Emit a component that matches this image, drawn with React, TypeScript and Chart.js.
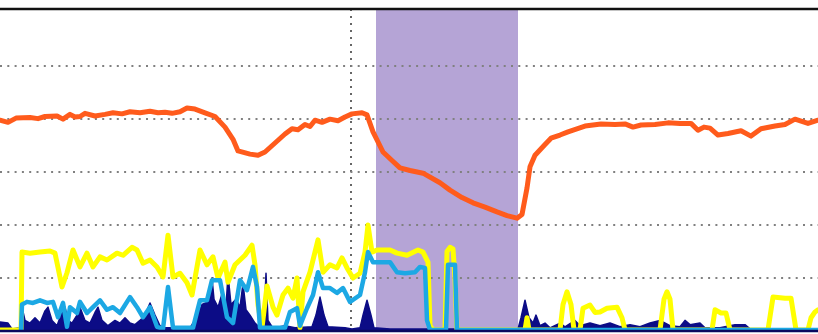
import React, { useEffect, useRef } from "react";
import { Chart, registerables } from "chart.js";

Chart.register(...registerables);

// ---- data ----
const yTicks = [1, 2, 3, 4, 5];
const xMin = 0;
const xMax = 818;
const yMin = 0;
const yMax = 6.08;
const markerX = [351];
const bandStart = 376;
const bandEnd = 518;

const orangeX = [0, 8, 16, 30, 38, 45, 57, 63, 70, 75, 80, 85, 95, 105, 113, 122, 130, 140, 150, 158, 165, 172, 180, 187, 195, 205, 215, 225, 233, 238, 250, 258, 265, 275, 285, 292, 298, 305, 310, 315, 322, 330, 338, 345, 352, 362, 367, 373, 383, 392, 400, 410, 423, 440, 450, 462, 473, 485, 497, 507, 517, 522, 527, 530, 535, 545, 551, 560, 568, 585, 601, 615, 625, 633, 641, 655, 668, 680, 691, 698, 704, 710, 718, 728, 741, 751, 761, 775, 785, 795, 808, 818];
const orangeY = [3.98, 3.94, 4.02, 4.03, 4.01, 4.05, 4.06, 4.0, 4.09, 4.04, 4.05, 4.11, 4.06, 4.09, 4.12, 4.1, 4.14, 4.12, 4.15, 4.12, 4.13, 4.11, 4.14, 4.21, 4.19, 4.12, 4.05, 3.85, 3.62, 3.4, 3.34, 3.32, 3.38, 3.55, 3.72, 3.82, 3.8, 3.9, 3.86, 3.98, 3.94, 4.0, 3.97, 4.04, 4.1, 4.12, 4.08, 3.76, 3.38, 3.22, 3.08, 3.03, 2.98, 2.8, 2.66, 2.52, 2.42, 2.34, 2.25, 2.18, 2.13, 2.2, 2.7, 3.1, 3.32, 3.52, 3.64, 3.7, 3.76, 3.87, 3.91, 3.9, 3.91, 3.85, 3.89, 3.9, 3.93, 3.92, 3.92, 3.79, 3.85, 3.83, 3.7, 3.73, 3.78, 3.68, 3.82, 3.87, 3.9, 4.0, 3.92, 3.98];

const yellowX = [0, 21, 22, 30, 40, 50, 55, 58, 62, 67, 73, 80, 87, 93, 100, 107, 117, 123, 132, 137, 143, 150, 157, 163, 168, 173, 180, 187, 192, 200, 207, 213, 218, 225, 228, 235, 245, 252, 255, 258, 262, 267, 273, 277, 283, 288, 293, 297, 300, 303, 310, 318, 323, 330, 337, 342, 347, 353, 360, 365, 368, 372, 377, 390, 397, 407, 418, 423, 428, 430, 433, 445, 447, 450, 453, 455, 457, 525, 527, 529, 560, 563, 567, 571, 574, 580, 583, 590, 595, 600, 607, 617, 622, 625, 660, 664, 667, 670, 673, 712, 715, 721, 726, 730, 768, 773, 785, 791, 796, 808, 811, 815, 818];
const yellowY = [0.02, 0.02, 1.49, 1.47, 1.49, 1.51, 1.47, 1.2, 0.83, 1.1, 1.53, 1.21, 1.47, 1.21, 1.4, 1.34, 1.47, 1.43, 1.58, 1.53, 1.28, 1.34, 1.21, 1.02, 1.81, 1.02, 1.09, 0.91, 0.68, 1.53, 1.25, 1.4, 1.0, 1.3, 0.92, 1.25, 1.43, 1.62, 1.25, 0.49, 0.06, 0.85, 0.45, 0.3, 0.68, 0.81, 0.62, 1.0, 0.06, 0.74, 1.11, 1.72, 1.11, 1.25, 1.19, 1.38, 1.19, 1.0, 1.09, 1.49, 2.0, 1.49, 1.53, 1.53, 1.47, 1.43, 1.53, 1.49, 1.3, 0.1, 0.02, 0.02, 1.5, 1.58, 1.55, 1.0, 0.02, 0.02, 0.25, 0.02, 0.02, 0.5, 0.74, 0.5, 0.02, 0.02, 0.43, 0.49, 0.35, 0.36, 0.43, 0.45, 0.25, 0.02, 0.02, 0.6, 0.74, 0.6, 0.02, 0.02, 0.4, 0.34, 0.34, 0.02, 0.02, 0.64, 0.62, 0.62, 0.02, 0.02, 0.25, 0.36, 0.4];

const blueX = [21, 22, 27, 33, 40, 47, 53, 58, 63, 67, 70, 77, 80, 87, 93, 100, 107, 113, 120, 130, 137, 143, 150, 157, 163, 168, 173, 193, 200, 207, 212, 220, 227, 233, 240, 247, 253, 257, 260, 265, 285, 290, 297, 300, 307, 313, 318, 323, 330, 337, 343, 350, 360, 365, 368, 373, 390, 397, 405, 415, 420, 425, 427, 430, 446, 448, 455, 457, 818];
const blueY = [0.02, 0.5, 0.55, 0.53, 0.58, 0.53, 0.55, 0.26, 0.53, 0.08, 0.45, 0.34, 0.55, 0.34, 0.45, 0.58, 0.4, 0.45, 0.34, 0.64, 0.45, 0.26, 0.45, 0.08, 0.04, 0.83, 0.06, 0.06, 0.58, 0.58, 0.96, 0.96, 0.26, 0.15, 0.96, 0.77, 1.21, 0.83, 0.06, 0.06, 0.06, 0.36, 0.43, 0.1, 0.43, 0.68, 1.11, 0.81, 0.81, 0.72, 0.81, 0.55, 0.68, 1.11, 1.49, 1.3, 1.3, 1.11, 1.09, 1.11, 1.21, 1.19, 0.2, 0.02, 0.02, 1.25, 1.25, 0.02, 0.02];

const navyX = [0, 8, 12, 20, 22, 25, 30, 35, 40, 45, 48, 52, 57, 62, 65, 68, 72, 77, 80, 85, 90, 95, 98, 102, 108, 115, 120, 125, 130, 135, 140, 145, 150, 155, 160, 165, 175, 190, 198, 202, 208, 212, 214, 218, 222, 226, 228, 231, 236, 240, 243, 246, 250, 255, 260, 264, 266, 268, 272, 280, 285, 295, 312, 316, 320, 324, 328, 345, 352, 360, 363, 367, 371, 374, 390, 518, 521, 525, 529, 533, 536, 540, 545, 550, 560, 565, 575, 580, 590, 600, 610, 620, 630, 640, 650, 660, 670, 680, 685, 690, 700, 705, 720, 735, 745, 750, 818];
const navyY = [0.17, 0.15, 0.04, 0.06, 0.45, 0.2, 0.15, 0.25, 0.15, 0.38, 0.45, 0.2, 0.1, 0.36, 0.45, 0.2, 0.15, 0.3, 0.45, 0.2, 0.15, 0.35, 0.45, 0.2, 0.1, 0.2, 0.15, 0.25, 0.15, 0.12, 0.2, 0.3, 0.53, 0.3, 0.1, 0.06, 0.06, 0.06, 0.3, 0.5, 0.55, 1.0, 0.6, 0.45, 0.7, 0.45, 1.06, 0.5, 0.6, 0.45, 0.9, 0.4, 0.3, 0.15, 0.06, 0.2, 1.09, 0.2, 0.08, 0.08, 0.1, 0.06, 0.08, 0.3, 0.64, 0.3, 0.08, 0.06, 0.04, 0.06, 0.3, 0.58, 0.3, 0.06, 0.04, 0.04, 0.25, 0.58, 0.25, 0.15, 0.3, 0.1, 0.15, 0.06, 0.15, 0.08, 0.2, 0.1, 0.15, 0.1, 0.15, 0.08, 0.12, 0.08, 0.15, 0.2, 0.1, 0.08, 0.2, 0.12, 0.15, 0.06, 0.06, 0.12, 0.12, 0.04, 0.04];

const pts = (xs: number[], ys: number[]) => xs.map((x, i) => ({ x, y: ys[i] }));

const decorPlugin = {
  id: "decor",
  beforeDraw(chart: any) {
    const { ctx, chartArea, scales } = chart;
    const x0 = scales.x.getPixelForValue(bandStart);
    const x1 = scales.x.getPixelForValue(bandEnd);
    ctx.save();
    ctx.fillStyle = "#b5a4d6";
    ctx.fillRect(x0, chartArea.top, x1 - x0, chartArea.bottom - chartArea.top);
    ctx.restore();
  },
  afterDraw(chart: any) {
    const { ctx, chartArea } = chart;
    ctx.save();
    ctx.strokeStyle = "#111";
    ctx.lineWidth = 2.5;
    ctx.beginPath();
    ctx.moveTo(chartArea.left, chartArea.top);
    ctx.lineTo(chartArea.right, chartArea.top);
    ctx.stroke();
    ctx.strokeStyle = "#0a0a60";
    ctx.lineWidth = 2.5;
    ctx.beginPath();
    ctx.moveTo(chartArea.left, chartArea.bottom);
    ctx.lineTo(chartArea.right, chartArea.bottom);
    ctx.stroke();
    ctx.restore();
  },
};

export default function App() {
  const ref = useRef<HTMLCanvasElement | null>(null);
  useEffect(() => {
    if (!ref.current) return;
    const common = { pointRadius: 0, tension: 0, borderJoinStyle: "round" as const, borderCapStyle: "round" as const };
    const chart = new Chart(ref.current, {
      type: "line",
      data: {
        datasets: [
          { ...common, label: "orange", data: pts(orangeX, orangeY), borderColor: "#ff5b1c", borderWidth: 5, fill: false },
          { ...common, label: "blue", data: pts(blueX, blueY), borderColor: "#1ca8e4", borderWidth: 4.5, fill: false },
          { ...common, label: "yellow", data: pts(yellowX, yellowY), borderColor: "#ffff00", borderWidth: 5, fill: false },
          { ...common, label: "navy", data: pts(navyX, navyY), borderColor: "#0c0c86", backgroundColor: "#0c0c86", borderWidth: 1.5, fill: "origin" },
        ],
      },
      options: {
        animation: false,
        responsive: false,
        maintainAspectRatio: false,
        layout: { padding: { top: 9, bottom: 3, left: 0, right: 0 } },
        plugins: { legend: { display: false }, tooltip: { enabled: false } },
        scales: {
          x: {
            type: "linear",
            min: xMin,
            max: xMax,
            afterBuildTicks: (axis: any) => {
              axis.ticks = markerX.map((v) => ({ value: v }));
            },
            ticks: { display: false },
            grid: { color: "#666", lineWidth: 2, drawTicks: false },
            border: { display: false, dash: [2, 5] },
          },
          y: {
            min: yMin,
            max: yMax,
            afterBuildTicks: (axis: any) => {
              axis.ticks = yTicks.map((v) => ({ value: v }));
            },
            ticks: { display: false },
            grid: { color: "#808080", lineWidth: 2, drawTicks: false },
            border: { display: false, dash: [2, 5.3] },
          },
        },
      },
      plugins: [decorPlugin],
    });
    return () => chart.destroy();
  }, []);
  return (
    <div style={{ position: "fixed", left: 0, top: 0, width: 818, height: 334, background: "#fff" }}>
      <canvas ref={ref} width={818} height={334} style={{ display: "block" }} />
    </div>
  );
}
